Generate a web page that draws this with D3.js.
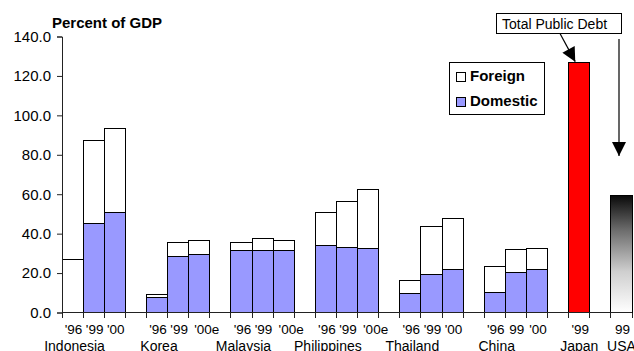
<html lang="en">
<head>
<meta charset="utf-8">
<title>Public debt</title>
<style>
  body { margin: 0; background: #fff; }
  text { font-family: "Liberation Sans", Arial, sans-serif; fill: #000; }
  .axis-line { stroke: #222; stroke-width: 1; shape-rendering: crispEdges; }
  .bar { stroke: #000; stroke-width: 1; shape-rendering: crispEdges; }
</style>
<script src="https://d3js.org/d3.v7.min.js"></script>
</head>
<body>
<svg id="chart" width="634" height="351"></svg>
<script>
// data (percent of GDP)
var groups = ["Indonesia", "Korea", "Malaysia", "Philippines", "Thailand", "China"];
var years = [
  ["'96", "'99", "'00"],
  ["'96", "'99", "'00e"],
  ["'96", "'99", "'00e"],
  ["'96", "'99", "'00e"],
  ["'96", "'99", "'00"],
  ["'96", "99", "'00"]
];
var domestic = [
  [0, 44.9, 50.9],
  [7.7, 28.6, 29.6],
  [31.2, 31.2, 31.2],
  [34.2, 32.8, 32.3],
  [9.5, 19.5, 22.0],
  [10.0, 20.5, 22.0]
];
var foreign = [
  [26.9, 42.1, 42.2],
  [1.2, 7.0, 7.1],
  [4.5, 6.2, 5.4],
  [16.7, 23.7, 30.3],
  [6.9, 24.0, 25.9],
  [13.2, 11.3, 10.3]
];
// total public debt
var debtCountries = ["Japan", "USA"];
var debtYears = ["'99", "99"];
var debtValues = [127.0, 59.2];
var yTicks = [0, 20, 40, 60, 80, 100, 120, 140];

var svg = d3.select("#chart");

// build the slot list: 3 bars per group, one empty slot between groups
var slots = [], bars = [], labels = [];
groups.forEach(function(g, gi) {
  years[gi].forEach(function(yr, i) {
    var id = g + "-" + i;
    slots.push(id);
    bars.push({slot: id, year: yr, dom: domestic[gi][i], frn: foreign[gi][i]});
  });
  labels.push({name: g, slot: g + "-0"});
  slots.push("gap-" + g);
});
debtCountries.forEach(function(c, i) {
  slots.push(c);
  labels.push({name: c, slot: c});
  if (i < debtCountries.length - 1) slots.push("gap-" + c);
});

var x = d3.scaleBand().domain(slots).range([62, 632]).padding(0);
var y = d3.scaleLinear().domain([0, 140]).range([312.5, 36.5]);
var bw = x.bandwidth();

// gradient for the USA bar
var grad = svg.append("defs").append("linearGradient")
    .attr("id", "usaGrad").attr("x1", 0).attr("y1", 0).attr("x2", 0).attr("y2", 1);
grad.append("stop").attr("offset", "0%").attr("stop-color", "#0a0a0a");
grad.append("stop").attr("offset", "30%").attr("stop-color", "#6e6e6e");
grad.append("stop").attr("offset", "65%").attr("stop-color", "#cfcfcf");
grad.append("stop").attr("offset", "100%").attr("stop-color", "#fff");

svg.select("defs").append("marker")
    .attr("id", "head")
    .attr("viewBox", "0 0 10 10")
    .attr("refX", 10).attr("refY", 5)
    .attr("markerUnits", "userSpaceOnUse")
    .attr("markerWidth", 15).attr("markerHeight", 14)
    .attr("orient", "auto")
  .append("path")
    .attr("d", "M0,0L10,5L0,10Z")
    .attr("fill", "#000");

// stacked bars
var bg = svg.append("g");
bars.forEach(function(d) {
  bg.append("rect").attr("class", "bar")
    .attr("x", x(d.slot)).attr("width", bw)
    .attr("y", y(d.dom + d.frn)).attr("height", y(d.dom) - y(d.dom + d.frn))
    .attr("fill", "#fff");
  if (d.dom > 0) {
    bg.append("rect").attr("class", "bar")
      .attr("x", x(d.slot)).attr("width", bw)
      .attr("y", y(d.dom)).attr("height", y(0) - y(d.dom))
      .attr("fill", "#9999ff");
  }
});
debtCountries.forEach(function(c, i) {
  bg.append("rect").attr("class", "bar")
    .attr("x", x(c)).attr("width", bw)
    .attr("y", y(debtValues[i])).attr("height", y(0) - y(debtValues[i]))
    .attr("fill", i === 0 ? "#ff0000" : "url(#usaGrad)");
});

// y axis
var yAxis = d3.axisLeft(y).tickValues(yTicks).tickSize(5).tickPadding(6)
    .tickFormat(d3.format(".1f"));
var yg = svg.append("g").attr("transform", "translate(62,0)").call(yAxis);
yg.select(".domain").attr("stroke", "#222");
yg.selectAll(".tick line").attr("stroke", "#222");
yg.selectAll(".tick text").style("font-size", "15px")
    .style("font-family", "'Liberation Sans', Arial, sans-serif").attr("fill", "#000");

// x axis line with a tick at every slot boundary
var edges = slots.map(function(s) { return x(s); }).concat([x.range()[1]]);
svg.append("line").attr("class", "axis-line")
    .attr("x1", 62).attr("x2", x.range()[1]).attr("y1", y(0)).attr("y2", y(0));
svg.selectAll(".xtick").data(edges).enter().append("line")
    .attr("class", "axis-line")
    .attr("x1", function(d) { return d; }).attr("x2", function(d) { return d; })
    .attr("y1", y(0)).attr("y2", y(0) + 5);

// year labels under each bar ("e" estimates sit a little to the right)
var yearLabels = bars.map(function(d) { return {slot: d.slot, t: d.year}; })
  .concat(debtCountries.map(function(c, i) { return {slot: c, t: debtYears[i]}; }));
svg.selectAll(".yr").data(yearLabels).enter().append("text")
    .attr("x", function(d) { return x(d.slot) + bw / 2 + (/e$/.test(d.t) ? 7.5 : 1); })
    .attr("y", 333.5)
    .attr("text-anchor", "middle")
    .style("font-size", "13.5px")
    .text(function(d) { return d.t; });

// country names
svg.selectAll(".cn").data(labels).enter().append("text")
    .attr("x", function(d) { return x(d.slot) + bw / 2 + (d.name === "Japan" || d.name === "USA" ? 0 : 2); })
    .attr("y", 350.5)
    .attr("text-anchor", "middle")
    .style("font-size", "14px")
    .text(function(d) { return d.name; });

// title
svg.append("text").attr("x", 52).attr("y", 28)
    .style("font-size", "15px").style("font-weight", "bold")
    .text("Percent of GDP");

// legend
var lg = svg.append("g");
lg.append("rect").attr("x", 449.5).attr("y", 62.5).attr("width", 95).attr("height", 52)
    .attr("fill", "#fff").attr("stroke", "#000");
[["Foreign", "#fff", 81], ["Domestic", "#9999ff", 106]].forEach(function(it) {
  lg.append("rect").attr("x", 456.5).attr("y", it[2] - 8.5).attr("width", 9).attr("height", 9)
    .attr("fill", it[1]).attr("stroke", "#000");
  lg.append("text").attr("x", 470).attr("y", it[2])
    .style("font-size", "15px").style("font-weight", "bold").text(it[0]);
});

// "Total Public Debt" note and arrows
svg.append("rect").attr("x", 496.5).attr("y", 13.5).attr("width", 125).attr("height", 20)
    .attr("fill", "#fff").attr("stroke", "#000");
svg.append("text").attr("x", 502).attr("y", 28.5).style("font-size", "14px")
    .text("Total Public Debt");
svg.append("line")
    .attr("x1", 560).attr("y1", 33.5)
    .attr("x2", x("Japan") + bw / 2 - 4).attr("y2", y(debtValues[0]) - 0.5)
    .attr("stroke", "#000").attr("stroke-width", 1.2).attr("marker-end", "url(#head)");
svg.append("line")
    .attr("x1", 619).attr("y1", 39)
    .attr("x2", 619).attr("y2", 156)
    .attr("stroke", "#000").attr("stroke-width", 1.2).attr("marker-end", "url(#head)");
</script>
</body>
</html>
